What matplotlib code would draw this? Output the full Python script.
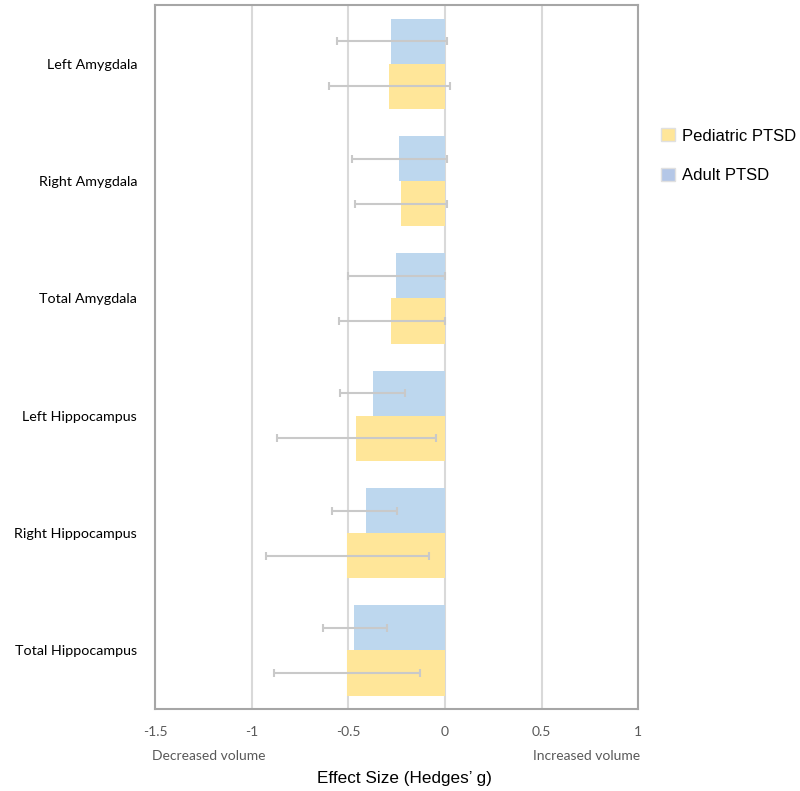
import matplotlib.pyplot as plt
from matplotlib.patches import Patch
import numpy as np

regions = ["Left Amygdala", "Right Amygdala", "Total Amygdala",
           "Left Hippocampus", "Right Hippocampus", "Total Hippocampus"]

# Hedges' g and 95% CI
adult_g = [-0.28, -0.24, -0.255, -0.375, -0.41, -0.47]
adult_lo = [-0.56, -0.48, -0.50, -0.545, -0.585, -0.63]
adult_hi = [0.01, 0.01, 0.0, -0.21, -0.25, -0.30]

ped_g = [-0.29, -0.23, -0.28, -0.46, -0.51, -0.51]
ped_lo = [-0.60, -0.465, -0.55, -0.87, -0.925, -0.885]
ped_hi = [0.025, 0.01, 0.0, -0.045, -0.085, -0.13]

adult_col = "#bdd7ee"
ped_col = "#ffe699"
err_col = "#c9c9c9"

fig = plt.figure(figsize=(8, 7.91), dpi=100)
ax = fig.add_axes([0.194, 0.1035, 0.604, 0.89])

y = np.arange(len(regions))
h = 0.385

a_g = np.array(adult_g)
p_g = np.array(ped_g)
a_err = [a_g - np.array(adult_lo), np.array(adult_hi) - a_g]
p_err = [p_g - np.array(ped_lo), np.array(ped_hi) - p_g]

ax.barh(y - h / 2, a_g, height=h, color=adult_col, zorder=2)
ax.barh(y + h / 2, p_g, height=h, color=ped_col, zorder=2)
ax.errorbar(a_g, y - h / 2, xerr=a_err, fmt="none", ecolor=err_col,
            elinewidth=1.5, capsize=3, capthick=1.5, zorder=3)
ax.errorbar(p_g, y + h / 2, xerr=p_err, fmt="none", ecolor=err_col,
            elinewidth=1.5, capsize=3, capthick=1.5, zorder=3)

ax.set_xlim(-1.5, 1)
ax.set_ylim(len(regions) - 0.5, -0.5)
ax.set_xticks([-1.5, -1, -0.5, 0, 0.5, 1])
ax.set_xticklabels(["-1.5", "-1", "-0.5", "0", "0.5", "1"],
                   fontname="Lato", fontsize=10, color="#595959")
ax.set_yticks(y)
ax.set_yticklabels(regions, fontname="Lato", fontsize=10.3, color="#000000")
ax.tick_params(length=0, pad=12)
ax.tick_params(axis="y", pad=13)
ax.grid(axis="x", color="#d9d9d9", linewidth=1.5, zorder=0)
ax.set_axisbelow(True)
for s in ax.spines.values():
    s.set_color("#a6a6a6")
    s.set_linewidth(1.5)

fig.text(152 / 800, 1 - 756 / 791, "Decreased volume", fontname="Lato",
         fontsize=10, color="#595959", ha="left", va="center")
fig.text(640 / 800, 1 - 756 / 791, "Increased volume", fontname="Lato",
         fontsize=10, color="#595959", ha="right", va="center")
fig.text(404 / 800, 1 - 778 / 791, "Effect Size (Hedges\u2019 g)",
         fontname="Liberation Sans", fontsize=12.3, color="#000000",
         ha="center", va="center")

handles = [Patch(facecolor=ped_col, edgecolor="#e0e0e0"),
           Patch(facecolor="#b4c7e7", edgecolor="#e0e0e0")]
fig.legend(handles, ["Pediatric PTSD", "Adult PTSD"], loc="upper left",
           bbox_to_anchor=(0.807, 0.857), frameon=False,
           prop={"family": "Liberation Sans", "size": 12},
           handlelength=0.85, handleheight=0.85, handletextpad=0.45,
           labelspacing=1.45)

fig.savefig("out.png", dpi=100)
